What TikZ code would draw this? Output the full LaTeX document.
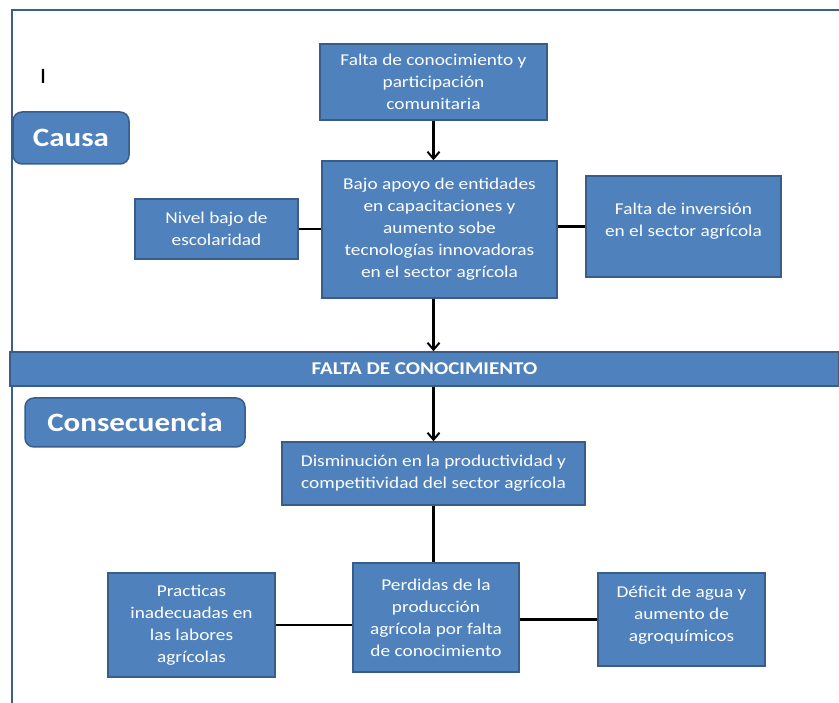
\documentclass[tikz,border=0pt]{standalone}
\usepackage{fontspec}
\setmainfont{Carlito}[FakeStretch=1.17]
\usetikzlibrary{arrows.meta}
\definecolor{boxfill}{HTML}{4F81BD}
\definecolor{boxedge}{HTML}{385D8A}
\definecolor{frameblue}{HTML}{3B5E8C}
\tikzset{
  bluebox/.style={draw=boxedge, line width=1.5pt, fill=boxfill, text=white, align=center, inner sep=2pt,
    font=\fontsize{16.5}{22}\selectfont},
  labelbox/.style={draw=boxedge, line width=1.5pt, fill=boxfill, text=white, rounded corners=9pt,
    font=\fontsize{26.5}{28}\selectfont\bfseries},
  conn/.style={black, line width=2.2pt},
  arr/.style={conn, -{Straight Barb[length=7pt,width=12pt,line width=2pt]}},
}
\begin{document}
\begin{tikzpicture}[x=1pt,y=-1pt]
\useasboundingbox (0,0) rectangle (839,703);
% frame
\draw[frameblue, line width=2.5pt] (839,10) -- (12,10) -- (12,703);
\node at (43,76) {\fontsize{22}{24}\selectfont I};
% label boxes
\node[labelbox, minimum width=116pt, minimum height=52pt] (causa) at (71,138) {Causa};
\node[labelbox, minimum width=220pt, minimum height=49pt] (conse) at (135,422.5) {Consecuencia};
% banner
\node[draw=boxedge, line width=1.5pt, fill=boxfill, text=white, minimum width=829pt, minimum height=34pt,
  font=\fontsize{18}{20}\selectfont\bfseries] (banner) at (424.5,369) {FALTA DE CONOCIMIENTO};
% cause boxes
\node[bluebox, minimum width=227pt, minimum height=76pt] (top) at (433.5,82)
  {Falta de conocimiento y\\participación\\comunitaria};
\node[bluebox, minimum width=235pt, minimum height=137pt] (mid) at (439.5,229.5)
  {Bajo apoyo de entidades\\en capacitaciones y\\aumento sobe\\tecnologías innovadoras\\en el sector agrícola};
\node[bluebox, minimum width=195pt, minimum height=101pt, text depth=14pt] (right) at (683.5,226.5)
  {Falta de inversión\\en el sector agrícola};
\node[bluebox, minimum width=163pt, minimum height=60pt] (nivel) at (216.5,229)
  {Nivel bajo de\\escolaridad};
% consequence boxes
\node[bluebox, minimum width=303pt, minimum height=63pt] (dism) at (433.5,473.5)
  {Disminución en la productividad y\\competitividad del sector agrícola};
\node[bluebox, minimum width=166pt, minimum height=109pt] (perd) at (436,617.5)
  {Perdidas de la\\producción\\agrícola por falta\\de conocimiento};
\node[bluebox, minimum width=167pt, minimum height=104pt] (prac) at (191.5,625)
  {Practicas\\inadecuadas en\\las labores\\agrícolas};
\node[bluebox, minimum width=167pt, minimum height=93pt, text depth=12pt] (def) at (681.5,619.5)
  {Déficit de agua y\\aumento de\\agroquímicos};
% connectors
\draw[arr] (top.south) -- (top.south |- mid.north);
\draw[arr] (mid.south -| top.south) -- (top.south |- banner.north);
\draw[arr] (banner.south -| dism.north) -- (dism.north);
\draw[conn] (dism.south) -- (dism.south |- perd.north);
\draw[conn] (nivel.east) -- (nivel.east -| mid.west);
\draw[conn] (mid.east |- right.west) -- (right.west);
\draw[conn] (prac.east) -- (prac.east -| perd.west);
\draw[conn] (perd.east |- def.west) -- (def.west);
\end{tikzpicture}
\end{document}
